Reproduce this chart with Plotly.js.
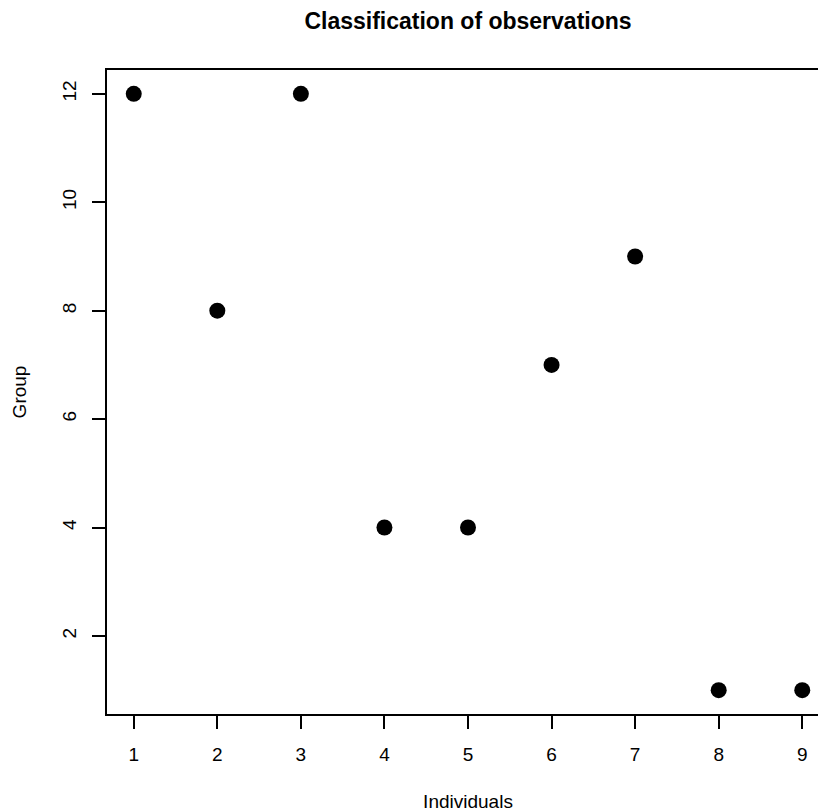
<!DOCTYPE html>
<html>
<head>
<meta charset="utf-8">
<script src="https://cdn.plot.ly/plotly-3.0.1.min.js"></script>
<style>
html, body { margin: 0; padding: 0; overflow: hidden; background: #fff; }
#chart { width: 840px; height: 812px; }
</style>
</head>
<body>
<div id="chart"></div>
<script>
const individuals = [1, 2, 3, 4, 5, 6, 7, 8, 9];
const group = [12, 8, 12, 4, 4, 7, 9, 1, 1];
const xTicks = [1, 2, 3, 4, 5, 6, 7, 8, 9];
const yTicks = [2, 4, 6, 8, 10, 12];

const font = "Liberation Sans, Arial, Helvetica, sans-serif";

const trace = {
  x: individuals,
  y: group,
  type: "scatter",
  mode: "markers",
  marker: { color: "#000", size: 16, line: { width: 0 } },
  hoverinfo: "x+y"
};

const layout = {
  width: 840,
  height: 812,
  margin: { l: 107, r: 11, t: 70, b: 98 },
  paper_bgcolor: "#fff",
  plot_bgcolor: "#fff",
  showlegend: false,
  font: { family: font, color: "#000", size: 19 },
  title: {
    text: "<b>Classification of observations</b>",
    font: { family: font, size: 23, color: "#000" },
    x: 0.5, xref: "paper", xanchor: "center",
    y: 1 - 21 / 812, yref: "container", yanchor: "middle"
  },
  xaxis: {
    range: [0.68, 9.32],
    tickvals: xTicks,
    ticktext: xTicks.map(String),
    ticks: "outside", ticklen: 13, tickwidth: 2, tickcolor: "#000",
    ticklabelstandoff: 9,
    showline: true, linecolor: "#000", linewidth: 2, mirror: true,
    showgrid: false, zeroline: false,
    tickfont: { family: font, size: 19, color: "#000" },
    title: { text: "Individuals", font: { family: font, size: 19, color: "#000" }, standoff: 32 },
    automargin: false
  },
  yaxis: {
    range: [0.56, 12.44],
    tickvals: yTicks,
    ticktext: yTicks.map(String),
    tickangle: -90,
    ticks: "outside", ticklen: 13, tickwidth: 2, tickcolor: "#000",
    ticklabelstandoff: 8,
    showline: true, linecolor: "#000", linewidth: 2, mirror: true,
    showgrid: false, zeroline: false,
    tickfont: { family: font, size: 19, color: "#000" },
    title: { text: "Group", font: { family: font, size: 19, color: "#000" }, standoff: 28 },
    automargin: false
  }
};

Plotly.newPlot("chart", [trace], layout, { displayModeBar: false, staticPlot: true });
</script>
</body>
</html>
